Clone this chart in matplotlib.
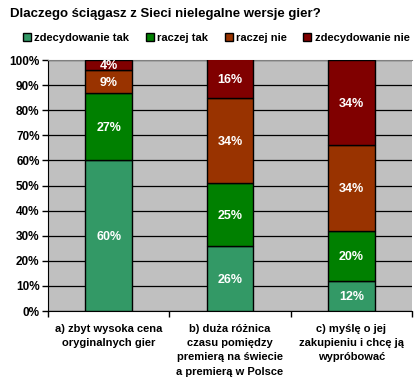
"""Stacked 100% bar chart: reasons for downloading illegal game copies."""
import matplotlib
matplotlib.use("Agg")
import matplotlib.pyplot as plt
import numpy as np

CATEGORIES = [
    "a) zbyt wysoka cena\noryginalnych gier",
    "b) duża różnica\nczasu pomiędzy\npremierą na świecie\na premierą w Polsce",
    "c) myślę o jej\nzakupieniu i chcę ją\nwypróbować",
]
SERIES = ["zdecydowanie tak", "raczej tak", "raczej nie", "zdecydowanie nie"]
ZDECYDOWANIE_TAK = [60, 26, 12]
RACZEJ_TAK = [27, 25, 20]
RACZEJ_NIE = [9, 34, 34]
ZDECYDOWANIE_NIE = [4, 16, 34]
COLORS = ["#339966", "#008000", "#993300", "#800000"]

plt.rcParams["font.family"] = ["Liberation Sans", "DejaVu Sans"]
plt.rcParams["font.weight"] = "bold"

fig = plt.figure(figsize=(4.2, 3.85), dpi=100)
ax = fig.add_axes([0.114, 0.192, 0.867, 0.652])
ax.set_facecolor("#C0C0C0")

x = np.arange(len(CATEGORIES))
bottom = np.zeros(len(CATEGORIES))
for name, vals, color in zip(SERIES,
                             [ZDECYDOWANIE_TAK, RACZEJ_TAK, RACZEJ_NIE, ZDECYDOWANIE_NIE],
                             COLORS):
    vals = np.array(vals, dtype=float)
    ax.bar(x, vals, bottom=bottom, width=0.385, color=color, edgecolor="black",
           linewidth=1.0, label=name, zorder=3)
    for xi, b, v in zip(x, bottom, vals):
        top = min(b + v, 100)
        ax.text(xi, (b + top) / 2 - 0.5, f"{int(v)}%", ha="center", va="center",
                color="white", fontsize=9, fontweight="bold", zorder=4)
    bottom += vals

ax.set_xlim(-0.5, 2.5)
ax.set_ylim(0, 100)
ax.set_yticks(range(0, 101, 10))
ax.set_yticklabels([f"{v}%" for v in range(0, 101, 10)], fontsize=8.5)
ax.yaxis.grid(True, color="black", linewidth=0.9, zorder=1)
ax.set_axisbelow(True)

ax.set_xticks(x)
ax.set_xticklabels(CATEGORIES, fontsize=8, linespacing=1.55, va="top")
ax.tick_params(axis="x", which="major", length=0, pad=9)
ax.set_xticks([-0.5, 0.5, 1.5, 2.5], minor=True)
ax.tick_params(axis="x", which="minor", length=4, width=1, color="black", direction="out")
ax.tick_params(axis="y", length=4, width=1, direction="out", pad=2)

ax.spines["right"].set_visible(False)
ax.spines["top"].set_color("#808080")
ax.spines["left"].set_color("black")
ax.spines["bottom"].set_color("black")

fig.text(0.025, 0.963, "Dlaczego ściągasz z Sieci nielegalne wersje gier?",
         fontsize=9.5, fontweight="bold", ha="left", va="center")
fig.legend(loc="center", bbox_to_anchor=(0.515, 0.902), ncol=4, frameon=False,
           fontsize=8, handlelength=0.7, handleheight=0.7, handletextpad=0.3,
           columnspacing=1.5)

plt.savefig("out.png", dpi=100)
plt.close(fig)
